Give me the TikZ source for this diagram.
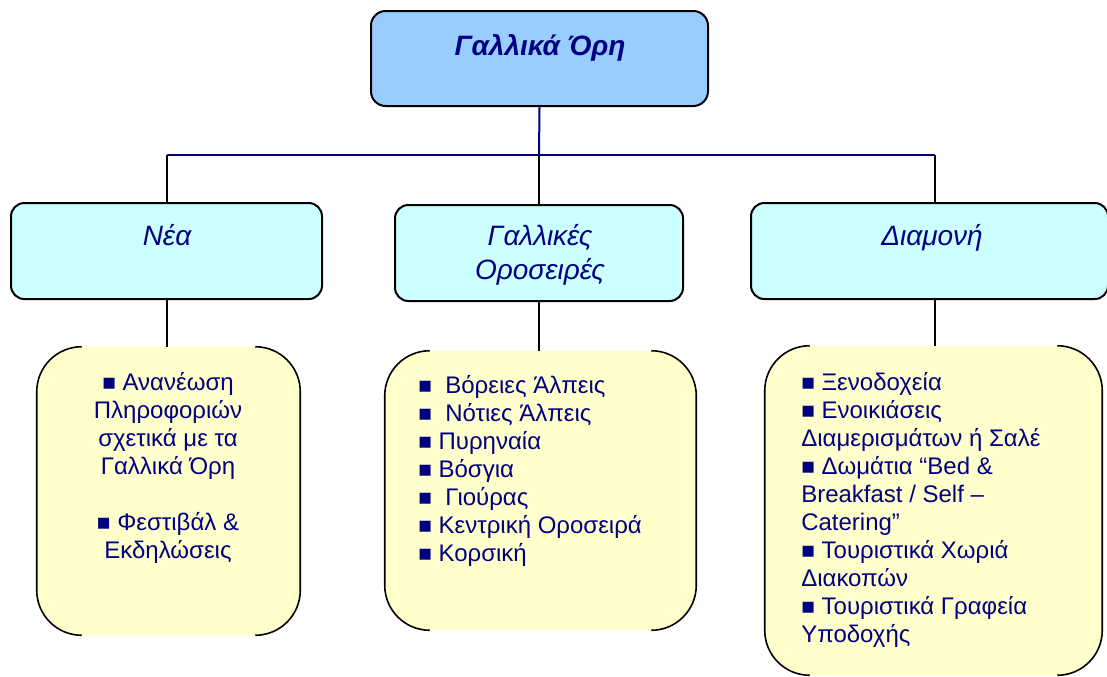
\documentclass[tikz,border=0pt]{standalone}
\usepackage{fontspec}
\setmainfont{Liberation Sans}
\definecolor{navy}{HTML}{000080}
\definecolor{topblue}{HTML}{99CCFF}
\definecolor{paleaqua}{HTML}{CCFFFF}
\definecolor{paleyellow}{HTML}{FFFFCC}
\newcommand{\blt}{{\fontsize{17}{17}\selectfont■}}
\tikzset{
  topbox/.style={draw=black, line width=1.5pt, fill=topblue, rounded corners=11pt,
    minimum width=252.75pt, minimum height=71.25pt, inner sep=0pt},
  midbox/.style={draw=black, line width=1.5pt, fill=paleaqua, rounded corners=10pt,
    minimum height=72pt, inner sep=0pt},
  listbox/.style={fill=paleyellow, rounded corners=33.75pt, inner sep=0pt},
  sidearc/.style={draw=black, line width=1.2pt, rounded corners=33.75pt},
  titletext/.style={text=navy, font=\fontsize{21}{25}\selectfont\bfseries\itshape, inner sep=0pt},
  headtext/.style={text=navy, font=\fontsize{21}{25}\selectfont\itshape, inner sep=0pt, align=center},
  listtext/.style={text=navy, font=\fontsize{18}{21}\selectfont, inner sep=0pt},
  navyline/.style={draw=navy, line width=1.5pt},
  blackline/.style={draw=black, line width=1.2pt}
}
\begin{document}
\begin{tikzpicture}[x=0.75pt,y=-0.75pt]
\useasboundingbox (0,0) rectangle (1107,676);

\node[topbox] (gall) at (539.5,58.5) {};
\node[titletext, anchor=base] (galltext) at (540,55) {Γαλλικά Όρη};

\node[midbox, minimum width=233.25pt] (nea) at (166.5,251) {};
\node[midbox, minimum width=216pt] (oros) at (539,253) {};
\node[midbox, minimum width=267.75pt] (diam) at (929.5,251) {};
\node[headtext, anchor=base] (neatext) at (167,245) {Νέα};
\node[headtext, anchor=base] (orostext) at (540,279) {Γαλλικές\\Οροσειρές};
\node[headtext, anchor=base] (diamtext) at (932,245) {Διαμονή};

\node[listbox, minimum width=197.25pt, minimum height=216pt] (nealist) at (168.5,491) {};
\node[listbox, minimum width=233.25pt, minimum height=209.25pt] (oroslist) at (540.5,490.5) {};
\node[listbox, minimum width=252.75pt, minimum height=246.75pt] (diamlist) at (933.5,510.5) {};
\foreach \b in {nealist,oroslist,diamlist}{
  \draw[sidearc] ([xshift=33.75pt]\b.north west) -- (\b.north west) -- (\b.south west) -- ([xshift=33.75pt]\b.south west);
  \draw[sidearc] ([xshift=-33.75pt]\b.north east) -- (\b.north east) -- (\b.south east) -- ([xshift=-33.75pt]\b.south east);
}

\node[listtext, align=center, anchor=base] (neaitems) at (168,558) {\blt{} Ανανέωση\\Πληροφοριών\\σχετικά με τα\\Γαλλικά Όρη\\[21pt]\blt{} Φεστιβάλ \&\\Εκδηλώσεις};
\node[listtext, align=left, anchor=base west] (orositems) at (418,561) {\blt\ \ Βόρειες Άλπεις\\\blt\ \ Νότιες Άλπεις\\\blt{} Πυρηναία\\\blt{} Βόσγια\\\blt\ \ Γιούρας\\\blt{} Κεντρική Οροσειρά\\\blt{} Κορσική};
\node[listtext, align=left, anchor=base west] (diamitems) at (801,642) {\blt{} Ξενοδοχεία\\\blt{} Ενοικιάσεις\\Διαμερισμάτων ή Σαλέ\\\blt{} Δωμάτια “Bed \&\\Breakfast / Self –\\Catering”\\\blt{} Τουριστικά Χωριά\\Διακοπών\\\blt{} Τουριστικά Γραφεία\\Υποδοχής};

\coordinate (hub) at (539,155);
\coordinate (cnea) at (167,155);
\coordinate (coros) at (539,155);
\coordinate (cdiam) at (935,155);
\draw[navyline] (gall.south) -- (hub);
\draw[navyline] (cnea) -- (cdiam);
\draw[blackline] (cnea) -- (cnea |- nea.north);
\draw[blackline] (coros) -- (coros |- oros.north);
\draw[blackline] (cdiam) -- (cdiam |- diam.north);
\draw[blackline] (cnea |- nea.south) -- (cnea |- nealist.north);
\draw[blackline] (coros |- oros.south) -- (coros |- oroslist.north);
\draw[blackline] (cdiam |- diam.south) -- (cdiam |- diamlist.north);
\end{tikzpicture}
\end{document}
